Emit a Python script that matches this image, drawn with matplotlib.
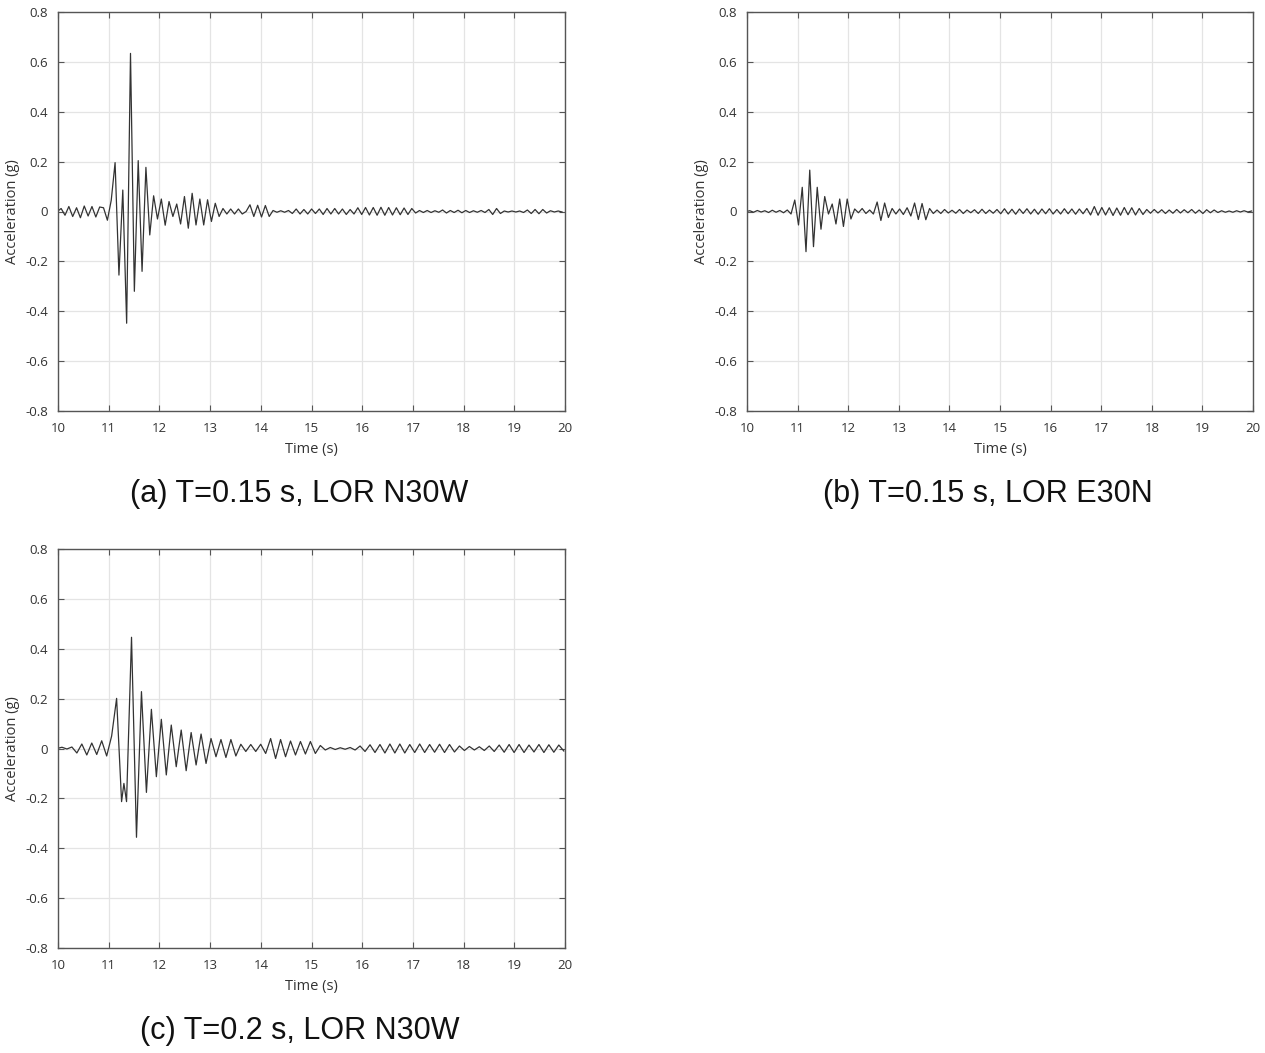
import numpy as np
import matplotlib
matplotlib.use("Agg")
import matplotlib.pyplot as plt

# ---------------- data (extrema) ----------------
# Panel (a): T=0.15 s, LOR N30W  (samples every half period)
a_t0 = 9.986
a_step = 0.076
a_acc = [0.0, 0.012, -0.015, 0.02, -0.02, 0.015, -0.025, 0.022, -0.018, 0.02,
         -0.022, 0.018, 0.015, -0.035, 0.045, 0.196, -0.255, 0.086, -0.448, 0.634,
         -0.32, 0.204, -0.24, 0.177, -0.094, 0.063, -0.03, 0.05, -0.055, 0.04,
         -0.02, 0.03, -0.05, 0.06, -0.067, 0.073, -0.054, 0.05, -0.054, 0.047,
         -0.04, 0.033, -0.02, 0.012, -0.01, 0.01, -0.01, 0.01, -0.01, 0.0,
         0.027, -0.02, 0.025, -0.022, 0.024, -0.02, 0.004, -0.003, 0.003, -0.003,
         0.004, -0.008, 0.01, -0.01, 0.008, -0.01, 0.01, -0.008, 0.01, -0.012,
         0.012, -0.01, 0.012, -0.01, 0.01, -0.012, 0.008, -0.01, 0.015, -0.012,
         0.016, -0.014, 0.016, -0.015, 0.017, -0.015, 0.016, -0.014, 0.015, -0.013,
         0.014, -0.012, 0.012, -0.006, 0.004, -0.004, 0.004, -0.004, 0.003, -0.003,
         0.006, -0.006, 0.004, -0.004, 0.005, -0.005, 0.004, -0.004, 0.003, -0.003,
         0.004, -0.004, 0.008, -0.012, 0.012, -0.008, 0.002, -0.002, 0.002, -0.002,
         0.002, -0.004, 0.006, -0.008, 0.008, -0.009, 0.008, -0.006, 0.003, -0.002,
         0.002, -0.002]

# Panel (b): T=0.15 s, LOR E30N
b_t0 = 9.982
b_step = 0.074
b_acc = [0.0, 0.003, -0.003, 0.004, -0.002, 0.003, -0.004, 0.005, -0.003, 0.004,
         -0.005, 0.006, -0.01, 0.046, -0.054, 0.097, -0.161, 0.166, -0.141, 0.097,
         -0.071, 0.06, -0.01, 0.03, -0.05, 0.05, -0.06, 0.05, -0.03, 0.01,
         -0.005, 0.012, -0.008, 0.006, -0.01, 0.038, -0.036, 0.034, -0.024, 0.012,
         -0.01, 0.01, -0.012, 0.015, -0.018, 0.034, -0.032, 0.032, -0.033, 0.012,
         -0.008, 0.006, -0.008, 0.008, -0.006, 0.005, -0.007, 0.008, -0.008, 0.006,
         -0.005, 0.007, -0.008, 0.009, -0.008, 0.006, -0.007, 0.008, -0.009, 0.011,
         -0.01, 0.009, -0.011, 0.01, -0.008, 0.011, -0.01, 0.009, -0.011, 0.01,
         -0.009, 0.011, -0.01, 0.008, -0.01, 0.011, -0.009, 0.01, -0.011, 0.01,
         -0.009, 0.012, -0.014, 0.02, -0.015, 0.016, -0.014, 0.015, -0.016, 0.014,
         -0.015, 0.016, -0.013, 0.015, -0.014, 0.012, -0.012, 0.008, -0.007, 0.008,
         -0.006, 0.007, -0.008, 0.006, -0.007, 0.008, -0.006, 0.007, -0.005, 0.008,
         -0.007, 0.006, -0.008, 0.007, -0.005, 0.006, -0.004, 0.003, -0.003, 0.002,
         -0.003, 0.003, -0.002, 0.003, -0.002, 0.002]

# Panel (c): T=0.2 s, LOR N30W
c_t0 = 9.98
c_step = 0.098
c_acc = [0.0, 0.005, -0.002, 0.006, -0.018, 0.018, -0.026, 0.022, -0.024, 0.031,
         -0.03, 0.05, 0.201, -0.213, -0.213, 0.446, -0.356, 0.228, -0.176, 0.157,
         -0.113, 0.117, -0.106, 0.094, -0.073, 0.074, -0.089, 0.064, -0.066, 0.058,
         -0.06, 0.04, -0.033, 0.036, -0.036, 0.036, -0.03, 0.017, -0.012, 0.016,
         -0.012, 0.017, -0.02, 0.04, -0.04, 0.036, -0.033, 0.03, -0.026, 0.028,
         -0.022, 0.028, -0.02, 0.012, -0.006, 0.004, -0.004, 0.003, -0.003, 0.004,
         -0.006, 0.01, -0.012, 0.015, -0.016, 0.016, -0.018, 0.018, -0.018, 0.018,
         -0.018, 0.016, -0.016, 0.018, -0.016, 0.016, -0.015, 0.017, -0.016, 0.016,
         -0.014, 0.01, -0.008, 0.008, -0.006, 0.007, -0.008, 0.01, -0.012, 0.014,
         -0.015, 0.016, -0.016, 0.016, -0.016, 0.014, -0.014, 0.016, -0.016, 0.015,
         -0.015, 0.014, -0.01]
c_extra_t = [11.30]
c_extra_acc = [-0.14]

x_ticks = list(range(10, 21))
y_ticks = [-0.8, -0.6, -0.4, -0.2, 0.0, 0.2, 0.4, 0.6, 0.8]
y_tick_labels = ["-0.8", "-0.6", "-0.4", "-0.2", "0", "0.2", "0.4", "0.6", "0.8"]
captions = ["(a) T=0.15 s, LOR N30W", "(b) T=0.15 s, LOR E30N", "(c) T=0.2 s, LOR N30W"]


def series(t0, step, vals, extra_t=(), extra_v=()):
    t = t0 + step * np.arange(len(vals))
    t = np.concatenate([t, np.asarray(extra_t, float)])
    v = np.concatenate([np.asarray(vals, float), np.asarray(extra_v, float)])
    o = np.argsort(t)
    return t[o], v[o]


W, H = 1265, 1053
fig = plt.figure(figsize=(W / 100, H / 100), dpi=100)
fig.patch.set_facecolor("white")

tick_font = "Open Sans"
spine_col = "#555555"


def make_ax(left_px, top_px, right_px, bottom_px):
    ax = fig.add_axes([left_px / W, 1 - bottom_px / H,
                       (right_px - left_px) / W, (bottom_px - top_px) / H])
    return ax


panels = [
    (make_ax(58, 12, 565, 411), series(a_t0, a_step, a_acc)),
    (make_ax(747, 12, 1253, 411), series(b_t0, b_step, b_acc)),
    (make_ax(58, 549, 565, 948), series(c_t0, c_step, c_acc, c_extra_t, c_extra_acc)),
]

for (ax, (t, v)), cap in zip(panels, captions):
    ax.plot(t, v, color="#333333", lw=0.9, solid_joinstyle="round")
    ax.set_xlim(10, 20)
    ax.set_ylim(-0.8, 0.8)
    ax.set_xticks(x_ticks)
    ax.set_xticklabels([str(x) for x in x_ticks], fontfamily=tick_font,
                       fontsize=9.5, color="#333333")
    ax.set_yticks(y_ticks)
    ax.set_yticklabels(y_tick_labels, fontfamily=tick_font, fontsize=9.5,
                       color="#333333")
    ax.grid(True, color="#e4e4e4", lw=0.9)
    ax.set_axisbelow(True)
    ax.tick_params(direction="in", length=4, width=0.8, color=spine_col,
                   top=True, right=True)
    ax.tick_params(axis="x", pad=8)
    ax.tick_params(axis="y", pad=7)
    for s in ax.spines.values():
        s.set_color(spine_col)
        s.set_linewidth(1.0)
    ax.set_xlabel("Time (s)", fontfamily=tick_font, fontsize=10.5,
                  color="#333333", labelpad=5)
    ax.set_ylabel("Acceleration (g)", fontfamily=tick_font, fontsize=10.5,
                  color="#333333", labelpad=4)
    pos = ax.get_position()
    cx = pos.x0 + pos.width / 2 - 12 / W
    cy = pos.y0 - 83 / H
    fig.text(cx, cy, cap, ha="center", va="center",
             fontfamily="Liberation Sans", fontsize=22, color="#111111")

fig.savefig("out.png", dpi=100, facecolor="white")
